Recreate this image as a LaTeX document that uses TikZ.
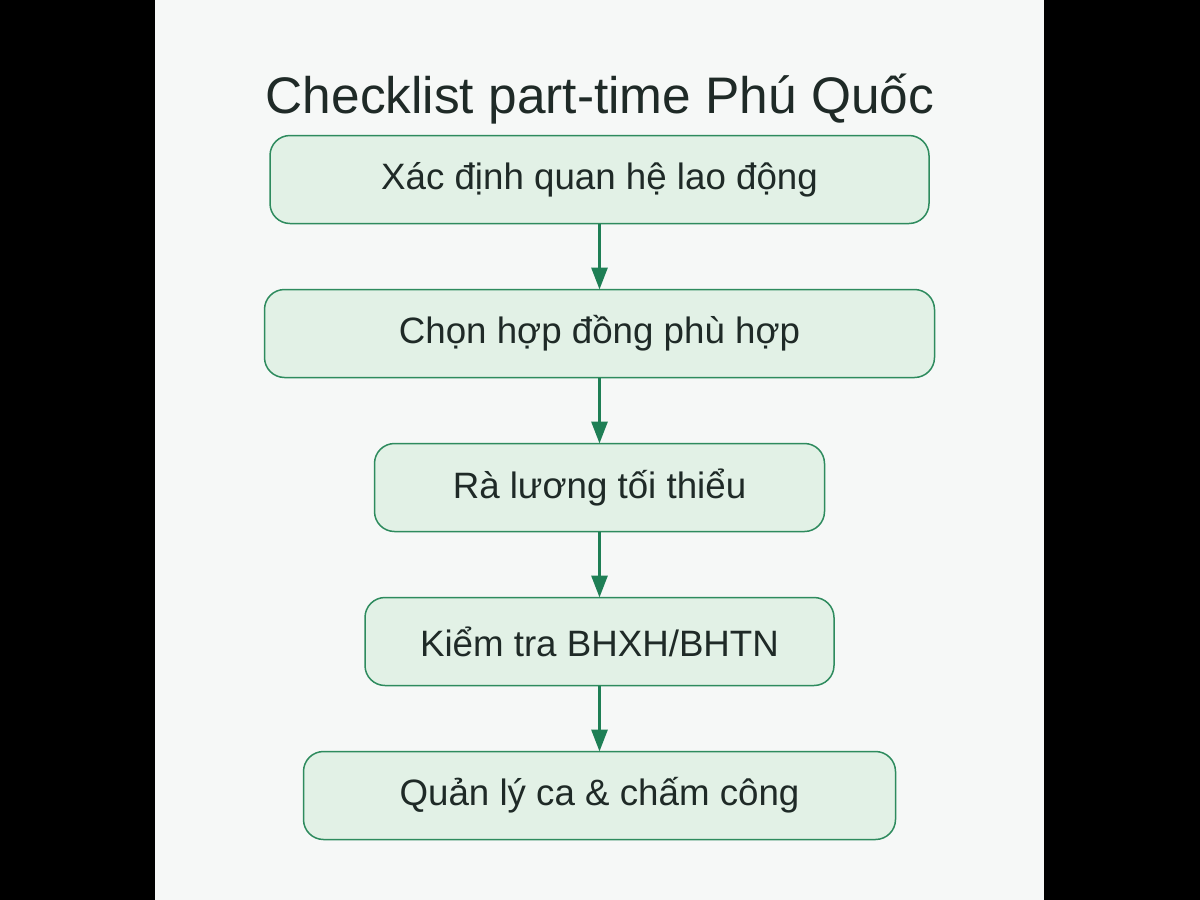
\documentclass[tikz,border=0pt]{standalone}
\usepackage{fontspec}
\setmainfont{Liberation Sans}
\usetikzlibrary{positioning, arrows.meta}

\definecolor{pagebg}{HTML}{F6F8F7}
\definecolor{boxfill}{HTML}{E2F1E6}
\definecolor{boxline}{HTML}{2E8B5E}
\definecolor{arrowcol}{HTML}{1E7F55}
\definecolor{textcol}{HTML}{1F2A27}

\tikzset{
    stepbox/.style={draw=boxline, fill=boxfill, line width=1.5pt, rounded corners=20pt,
        minimum height=88pt, text=textcol, font=\fontsize{36.7}{44}\selectfont,
        inner sep=0pt, outer sep=0pt},
    flow/.style={-{Triangle[length=22pt, width=16pt]}, arrowcol, line width=3pt}
}

\begin{document}
\begin{tikzpicture}[node distance=66pt]
    % Background and side bars
    \fill[black] (0pt,0pt) rectangle (1200pt,-900pt);
    \fill[pagebg] (155pt,0pt) rectangle (1044pt,-900pt);
    \useasboundingbox (0pt,0pt) rectangle (1200pt,-900pt);

    % Title
    \node (title) [anchor=base, text=textcol, font=\fontsize{51.4}{60}\selectfont] at (600pt,-113pt) {Checklist part-time Phú Quốc};

    % Steps of the checklist
    \node (relation) [stepbox, minimum width=659pt] at (599.5pt,-179.5pt) {Xác định quan hệ lao động};
    \node (contract) [stepbox, minimum width=670pt, below=of relation] {Chọn hợp đồng phù hợp};
    \node (wage) [stepbox, minimum width=450pt, below=of contract] {Rà lương tối thiểu};
    \node (insurance) [stepbox, minimum width=469pt, below=of wage] {Kiểm tra BHXH/BHTN};
    \node (shift) [stepbox, minimum width=592pt, below=of insurance] {Quản lý ca \& chấm công};

    % Arrows between the steps
    \draw[flow] (relation) -- (contract);
    \draw[flow] (contract) -- (wage);
    \draw[flow] (wage) -- (insurance);
    \draw[flow] (insurance) -- (shift);
\end{tikzpicture}
\end{document}
